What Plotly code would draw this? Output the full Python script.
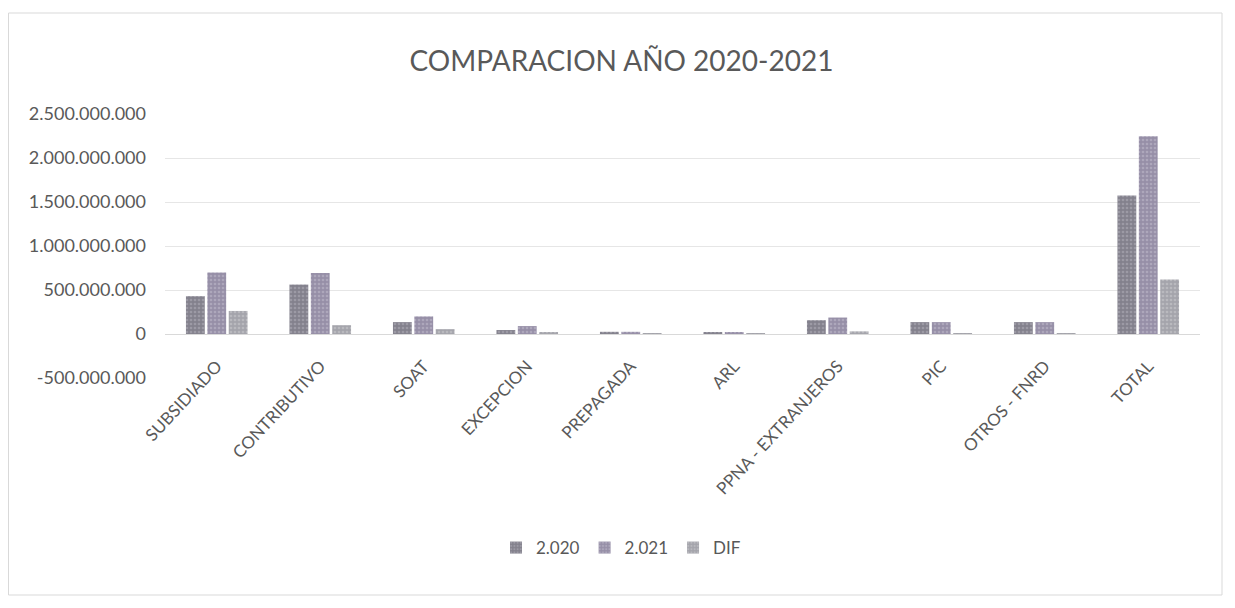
import plotly.graph_objects as go

categories = ["SUBSIDIADO", "CONTRIBUTIVO", "SOAT", "EXCEPCION", "PREPAGADA", "ARL",
              "PPNA - EXTRANJEROS", "PIC", "OTROS - FNRD", "TOTAL"]
v2020 = [430e6, 562e6, 135e6, 45e6, 25e6, 20e6, 157e6, 135e6, 135e6, 1573e6]
v2021 = [700e6, 693e6, 200e6, 90e6, 25e6, 20e6, 187e6, 135e6, 135e6, 2247e6]
vdif = [262e6, 100e6, 55e6, 22e6, 4e6, 3e6, 30e6, 3e6, 3e6, 618e6]
series_names = ["2.020", "2.021", "DIF"]
tick_vals = [-500e6, 0, 500e6, 1000e6, 1500e6, 2000e6, 2500e6]
tick_text = ["-500.000.000", "0", "500.000.000", "1.000.000.000", "1.500.000.000",
             "2.000.000.000", "2.500.000.000"]

FONT = "Lato"
GREY = "#595959"
styles = [("#83818d", "#b5b3bd"), ("#968fa7", "#c4bfd0"), ("#a4a4ab", "#cdcdd2")]

fig = go.Figure()
for name, vals, (bg, fg) in zip(series_names, [v2020, v2021, vdif], styles):
    fig.add_trace(go.Bar(
        x=categories, y=vals, name=name,
        marker=dict(color=bg, line=dict(width=0),
                    pattern=dict(shape=".", fgcolor=fg, size=4, solidity=0.35)),
    ))

W, H = 1227, 600
L, T, R, B = 157, 106, 1192, 370
PW, PH = R - L, B - T

fig.update_layout(
    width=W, height=H,
    paper_bgcolor="white", plot_bgcolor="white",
    margin=dict(l=L, r=W - R, t=T, b=H - B, autoexpand=False),
    barmode="group", bargap=0.38, bargroupgap=0.12,
    font=dict(family=FONT, color=GREY),
    title=dict(text="COMPARACION AÑO 2020-2021", x=0.5, xref="container",
               y=1 - 53 / H, yref="container", xanchor="center", yanchor="middle",
               font=dict(family=FONT, size=28, color=GREY)),
    showlegend=True,
    legend=dict(orientation="h", x=(613 - L) / PW, xanchor="center",
                y=(B - 540) / PH, yanchor="middle",
                font=dict(family=FONT, size=17, color=GREY), traceorder="normal",
                itemwidth=30, bgcolor="rgba(0,0,0,0)"),
    xaxis=dict(anchor="free", position=1 / 6, tickangle=-47, showgrid=False,
               showline=False, ticks="", ticklabelstandoff=18,
               tickfont=dict(family=FONT, size=17, color=GREY)),
    yaxis=dict(range=[-500e6, 2500e6], tickvals=tick_vals, ticktext=tick_text,
               showgrid=True, gridcolor="#e6e6e6", gridwidth=1,
               zeroline=True, zerolinecolor="#d9d9d9", zerolinewidth=1,
               showline=False, ticks="", ticklabelstandoff=18,
               tickfont=dict(family=FONT, size=18, color=GREY)),
    shapes=[dict(type="rect", xref="paper", yref="paper",
                 x0=(0.5 - L) / PW, x1=(1214 - L) / PW,
                 y0=(B - 587) / PH, y1=(B - 5) / PH,
                 line=dict(color="#d9d9d9", width=1), fillcolor="rgba(0,0,0,0)",
                 layer="below")],
)

fig.write_html("out.html")
